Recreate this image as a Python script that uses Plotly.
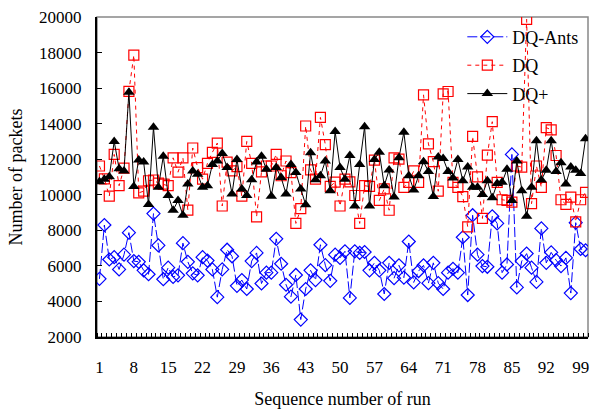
import plotly.graph_objects as go

runs = list(range(1, 101))

dq_ants = [5270, 8300, 6360, 6490, 5800, 6630, 7870, 6270, 6230, 5750,
           5530, 8940, 7150, 5250, 5900, 5380, 5470, 7280, 6230, 5580,
           5470, 6490, 6300, 5800, 4240, 5800, 6910, 6540, 4880, 5200,
           4700, 6270, 6730, 5010, 5620, 5620, 7520, 6120, 4940, 4270,
           5490, 2980, 4700, 5750, 5200, 7190, 6040, 5160, 6630, 6450,
           6820, 4200, 6820, 6730, 6780, 5750, 6170, 5750, 4420, 6170,
           5310, 6030, 5340, 7370, 5070, 5710, 6030, 5030, 6170, 5030,
           4700, 5620, 5840, 5620, 7610, 4360, 8850, 6630, 5990, 5950,
           8790, 8390, 5620, 6080, 12270, 4790, 6270, 6690, 5900, 5100,
           8110, 6170, 6760, 6320, 5990, 6450, 4470, 8430, 6950, 6880]

dq = [11620, 10900, 9920, 12270, 10510, 11500, 15820, 17860, 10110, 10200,
      10790, 10830, 10650, 10600, 10510, 12080, 11270, 12080, 9140, 12630,
      11530, 10880, 11770, 12390, 12910, 9370, 11840, 11340, 11580, 9920,
      13000, 11770, 8760, 11290, 11620, 11620, 12270, 11070, 11900, 11250,
      8390, 9220, 13870, 11400, 10880, 14350, 12820, 10470, 10710, 9370,
      10880, 10730, 9960, 8390, 10510, 10470, 11950, 9680, 10330, 9130,
      12080, 12000, 10420, 10700, 11340, 10700, 15620, 12860, 11860, 10200,
      15680, 15810, 10700, 10420, 9900, 8200, 13280, 11010, 8670, 12230,
      14110, 10700, 9720, 9680, 9590, 11620, 11560, 19870, 9500, 11620,
      10420, 13780, 13650, 12210, 9720, 9460, 9870, 8480, 9720, 10140]

dq_plus = [10730, 10880, 11010, 13000, 11470, 11340, 15770, 10460, 11950, 11840,
           9460, 13800, 10420, 12170, 9960, 9130, 9680, 8850, 10600, 11340,
           11160, 10420, 10510, 11710, 11900, 12320, 11530, 10050, 11990, 10330,
           9960, 10840, 11840, 12170, 11430, 9920, 11530, 10970, 10050, 11710,
           11250, 10330, 9440, 12360, 10840, 11070, 11900, 10230, 13560, 11530,
           10880, 12210, 9370, 11710, 13830, 9370, 11990, 12390, 10510, 11400,
           9870, 12080, 13520, 11070, 10270, 11070, 11860, 11310, 9900, 12120,
           12040, 11310, 10940, 11990, 10790, 11560, 10420, 10420, 10010, 10790,
           9830, 10640, 10700, 11430, 9680, 11900, 10230, 8790, 10420, 13040,
           10830, 11380, 13040, 11310, 11800, 10600, 11560, 11380, 11190, 13150]

x_tick_labels = [1, 8, 15, 22, 29, 36, 43, 50, 57, 64, 71, 78, 85, 92, 99]
y_ticks = list(range(2000, 20001, 2000))

FONT = "Liberation Serif, Times New Roman, serif"

fig = go.Figure()

fig.add_trace(go.Scatter(
    x=runs, y=dq_ants, name="DQ-Ants", mode="lines+markers", legendgroup="a",
    line=dict(color="#0000FF", width=1, dash="10px,3px"),
    marker=dict(symbol="diamond-open", size=10, color="#0000FF",
                line=dict(width=1.2, color="#0000FF")),
))
fig.add_trace(go.Scatter(
    x=runs, y=dq, name="DQ", mode="lines+markers", legendgroup="b",
    line=dict(color="#FF0000", width=1, dash="4px,4px"),
    marker=dict(symbol="square-open", size=10, color="#FF0000",
                line=dict(width=1.2, color="#FF0000")),
))
fig.add_trace(go.Scatter(
    x=runs, y=dq_plus, name="DQ+", mode="lines+markers", legendgroup="c",
    line=dict(color="#000000", width=1),
    marker=dict(symbol="triangle-up", size=10, color="#000000"),
))

# grey frame on the top and right of the plotting area
fig.add_shape(type="rect", xref="paper", yref="paper", x0=0, y0=0, x1=1, y1=1,
              line=dict(color="#888888", width=1.5), layer="below")

fig.update_layout(
    width=597, height=417,
    margin=dict(l=97, r=8, t=12, b=80),
    paper_bgcolor="white", plot_bgcolor="white",
    font=dict(family=FONT, size=17, color="black"),
    showlegend=True,
    legend=dict(x=0.744, y=0.995, xanchor="left", yanchor="top",
                bgcolor="rgba(0,0,0,0)", borderwidth=0, tracegroupgap=2,
                font=dict(family=FONT, size=18), itemwidth=40),
)

fig.update_xaxes(
    range=[0.5, 100.5],
    tickmode="array", tickvals=x_tick_labels,
    ticktext=[str(v) for v in x_tick_labels],
    ticks="", ticklabelstandoff=14,
    showgrid=False, zeroline=False,
    showline=True, linecolor="black", linewidth=2,
    minor=dict(tickmode="linear", tick0=0.5, dtick=1, ticks="inside",
               ticklen=4, tickcolor="black", tickwidth=1, showgrid=False),
    title=dict(text="Sequence number of run", font=dict(family=FONT, size=18), standoff=16),
    tickfont=dict(family=FONT, size=17),
)

fig.update_yaxes(
    range=[2000, 20000],
    tickmode="array", tickvals=y_ticks, ticktext=[str(v) for v in y_ticks],
    ticks="inside", ticklen=5, tickcolor="black", tickwidth=1,
    ticklabelstandoff=10,
    showgrid=False, zeroline=False,
    showline=True, linecolor="black", linewidth=2,
    title=dict(text="Number of packets", font=dict(family=FONT, size=18), standoff=12),
    tickfont=dict(family=FONT, size=17),
)

fig.write_html("out.html")
